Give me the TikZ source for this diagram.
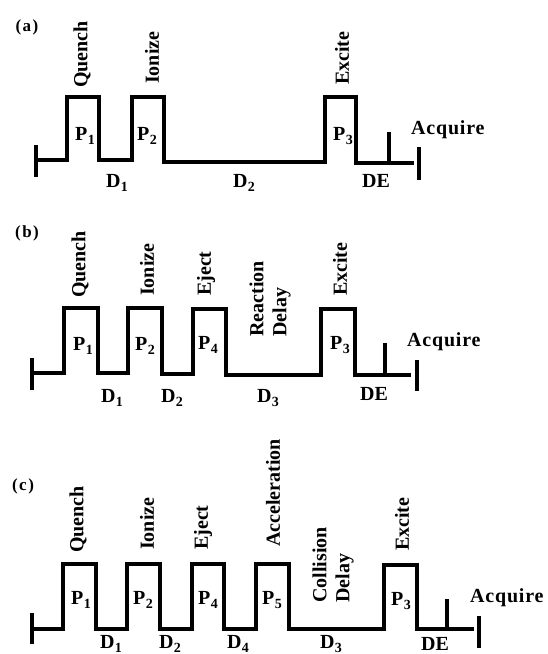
\documentclass[tikz,border=0pt]{standalone}
\usepackage{fontspec}
\setmainfont{Liberation Serif}
\newcommand\labsub[2]{#1\kern0.5pt\raisebox{-4pt}{\fontsize{14}{14}\selectfont #2}}
\tikzset{
  wave/.style={line width=4pt, line join=miter, line cap=butt},
  endtick/.style={line width=4pt, line cap=butt},
  rlab/.style={rotate=90, anchor=west, inner sep=0pt, align=left,
    font=\fontsize{20}{23}\selectfont\bfseries},
  plab/.style={anchor=base, inner sep=0pt, font=\fontsize{20}{20}\selectfont\bfseries},
  acq/.style={anchor=base west, inner sep=0pt,
    font=\fontsize{20}{20}\selectfont\bfseries\addfontfeature{LetterSpace=4}},
  panel/.style={inner sep=0pt, font=\fontsize{17}{17}\selectfont\bfseries},
}
\begin{document}
\begin{tikzpicture}[x=1pt,y=-1pt]
\useasboundingbox (0,0) rectangle (547,654);

% ---------------- (a) ----------------
\node[panel] (pa) at (27,27) {(\kern1.5pt a\kern1.5pt)};
\draw[endtick] (36,145) -- (36,177);
\draw[wave] (36,160) -- (67,160) -- (67,97) -- (99,97) -- (99,160) -- (132,160)
  -- (132,97) -- (164,97) -- (164,162) -- (325,162) -- (325,97) -- (356,97)
  -- (356,163) -- (414,163);
\draw[endtick] (389,163) -- (389,132);
\draw[endtick] (419,147) -- (419,180);
\node[rlab] (aq) at (82,88) {Quench};
\node[rlab] (ai) at (152,84) {Ionize};
\node[rlab] (ae) at (342,85) {Excite};
\node[plab] (ap1) at (85,140) {\labsub{P}{1}};
\node[plab] (ap2) at (147,140) {\labsub{P}{2}};
\node[plab] (ap3) at (343,140) {\labsub{P}{3}};
\node[plab] (ad1) at (117,187) {\labsub{D}{1}};
\node[plab] (ad2) at (244,187) {\labsub{D}{2}};
\node[plab] (ade) at (376,187) {DE};
\node[acq] (aacq) at (411,134) {Acquire};

% ---------------- (b) ----------------
\node[panel] (pb) at (27,233) {(\kern1.5pt b\kern1.5pt)};
\draw[endtick] (32,358) -- (32,390);
\draw[wave] (32,373) -- (64,373) -- (64,308) -- (98,308) -- (98,373) -- (128,373)
  -- (128,308) -- (162,308) -- (162,374) -- (193,374) -- (193,309) -- (226,309)
  -- (226,375) -- (321,375) -- (321,309) -- (355,309) -- (355,375) -- (411,375);
\draw[endtick] (385,375) -- (385,343);
\draw[endtick] (417,360) -- (417,391);
\node[rlab] (bq) at (80,298) {Quench};
\node[rlab] (bi) at (147,296) {Ionize};
\node[rlab] (bj) at (206,296) {Eject};
\node[rlab] (br) at (270,337) {Reaction\\Delay};
\node[rlab] (be) at (340,296) {Excite};
\node[plab] (bp1) at (83,350) {\labsub{P}{1}};
\node[plab] (bp2) at (145,350) {\labsub{P}{2}};
\node[plab] (bp4) at (208,349) {\labsub{P}{4}};
\node[plab] (bp3) at (340,349) {\labsub{P}{3}};
\node[plab] (bd1) at (112,402) {\labsub{D}{1}};
\node[plab] (bd2) at (172,402) {\labsub{D}{2}};
\node[plab] (bd3) at (268,402) {\labsub{D}{3}};
\node[plab] (bde) at (374,400) {DE};
\node[acq] (bacq) at (407,346) {Acquire};

% ---------------- (c) ----------------
\node[panel] (pc) at (23,486) {(\kern1.5pt c\kern1.5pt)};
\draw[endtick] (32,613) -- (32,644);
\draw[wave] (32,629) -- (63,629) -- (63,564) -- (96,564) -- (96,629) -- (127,629)
  -- (127,564) -- (160,564) -- (160,629) -- (192,629) -- (192,564) -- (224,564)
  -- (224,629) -- (256,629) -- (256,564) -- (289,564) -- (289,629) -- (384,629)
  -- (384,565) -- (417,565) -- (417,629) -- (474,629);
\draw[endtick] (447,629) -- (447,599);
\draw[endtick] (479,616) -- (479,648);
\node[rlab] (cq) at (78,553) {Quench};
\node[rlab] (ci) at (147,550) {Ionize};
\node[rlab] (cj) at (203,550) {Eject};
\node[rlab] (ca) at (273,547) {Acceleration};
\node[rlab] (cc) at (333,603) {Collision\\Delay};
\node[rlab] (ce) at (402,551) {Excite};
\node[plab] (cp1) at (81,604) {\labsub{P}{1}};
\node[plab] (cp2) at (143,604) {\labsub{P}{2}};
\node[plab] (cp4) at (208,604) {\labsub{P}{4}};
\node[plab] (cp5) at (272,604) {\labsub{P}{5}};
\node[plab] (cp3) at (401,605) {\labsub{P}{3}};
\node[plab] (cd1) at (111,648) {\labsub{D}{1}};
\node[plab] (cd2) at (170,648) {\labsub{D}{2}};
\node[plab] (cd4) at (238,648) {\labsub{D}{4}};
\node[plab] (cd3) at (331,648) {\labsub{D}{3}};
\node[plab] (cde) at (435,650) {DE};
\node[acq] (cacq) at (470,602) {Acquire};
\end{tikzpicture}
\end{document}
